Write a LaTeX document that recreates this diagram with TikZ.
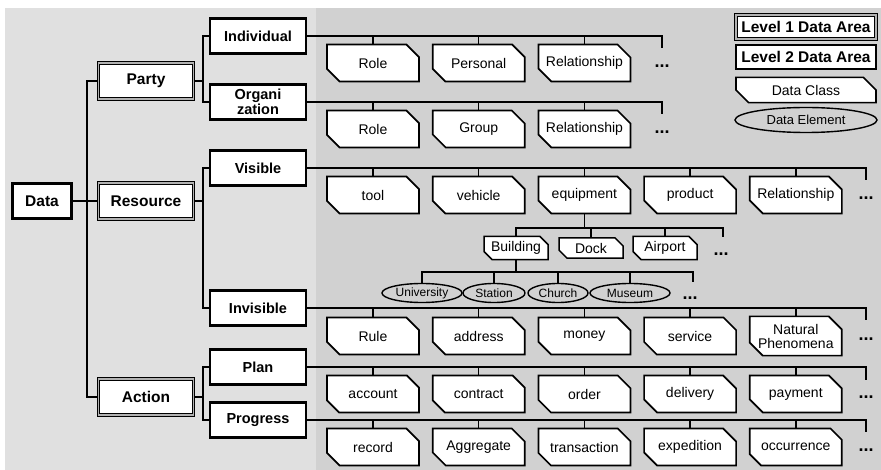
\documentclass[tikz,border=0pt]{standalone}
\usepackage{fontspec}
\setmainfont{Liberation Sans}
\usetikzlibrary{positioning,shapes.misc,shapes.geometric}

\begin{document}
\begin{tikzpicture}[x=1pt, y=-1pt,
    link/.style={line width=1.4pt},
    rootbox/.style={draw, line width=2.4pt, fill=white, minimum width=59pt, minimum height=35pt,
                    inner sep=1pt, font=\fontsize{15.5}{17}\selectfont\bfseries},
    areaone/.style={draw, line width=0.9pt, double=gray!60, double distance=1.4pt, fill=white,
                    minimum width=95pt, minimum height=36pt, inner sep=1pt,
                    font=\fontsize{15.5}{17}\selectfont\bfseries},
    areatwo/.style={draw, line width=2.4pt, fill=white, minimum width=96pt, minimum height=35pt,
                    inner sep=1pt, align=center, font=\fontsize{14.5}{12}\selectfont\bfseries},
    dclass/.style={chamfered rectangle, chamfered rectangle corners={north east,south west},
                   chamfered rectangle xsep=6.5pt, chamfered rectangle ysep=6.5pt, draw, line width=1.7pt,
                   fill=white, minimum width=92pt, minimum height=37pt, inner sep=1pt, align=center,
                   font=\fontsize{14}{14}\selectfont},
    subclass/.style={dclass, chamfered rectangle xsep=4pt, chamfered rectangle ysep=4pt,
                     line width=1.5pt, minimum width=64pt, minimum height=20pt},
    delem/.style={ellipse, draw, line width=1.4pt, minimum height=19pt, inner sep=0pt,
                  font=\fontsize{12}{12}\selectfont},
    more/.style={inner sep=0pt, font=\fontsize{18}{18}\selectfont\bfseries},
  ]

  % background
  \useasboundingbox (0,0) rectangle (881,470);
  \fill[gray!24] (5,8) rectangle (881,470);
  \fill[gray!36] (316,8) rectangle (881,470);

  % bus lines
  \coordinate (lva) at (87,0);
  \coordinate (lvb) at (203,0);

  % level 1
  \node[rootbox] (data) at (42,201) {Data};
  \node[areaone] (party) at (146,81) {Party};
  \node[areaone] (resource) at (146,201) {Resource};
  \node[areaone] (action) at (146,397) {Action};

  % level 2
  \node[areatwo] (ind) at (258,36) {Individual};
  \node[areatwo] (org) at (258,102) {Organi\\zation};
  \node[areatwo] (vis) at (258,168) {Visible};
  \node[areatwo] (invis) at (258,308) {Invisible};
  \node[areatwo] (plan) at (258,367) {Plan};
  \node[areatwo] (prog) at (258,420) {Progress};

  \draw[link] (data) -- (resource);
  \draw[link] (party.west) -- (party.west -| lva) -- (action.west -| lva) -- (action.west);
  \draw[link] (ind.west) -- (ind.west -| lvb) -- (org.west -| lvb) -- (org.west);
  \draw[link] (party.east) -- (party.east -| lvb);
  \draw[link] (vis.west) -- (vis.west -| lvb) -- (invis.west -| lvb) -- (invis.west);
  \draw[link] (resource.east) -- (resource.east -| lvb);
  \draw[link] (plan.west) -- (plan.west -| lvb) -- (prog.west -| lvb) -- (prog.west);
  \draw[link] (action.east) -- (action.east -| lvb);

  % data classes
  \node[dclass] (a1) at (373,63) {Role};
  \node[dclass, right=12pt of a1] (a2) {Personal};
  \node[dclass, right=12pt of a2] (a3) {Relationship};
  \node[more] (moreA) at (662,66) {...};

  \node[dclass] (b1) at (373,129) {Role};
  \node[dclass, right=12pt of b1] (b2) {Group};
  \node[dclass, right=12pt of b2] (b3) {Relationship};
  \node[more] (moreB) at (662,132) {...};

  \node[dclass] (c1) at (373,195) {tool};
  \node[dclass, right=12pt of c1] (c2) {vehicle};
  \node[dclass, right=12pt of c2] (c3) {equipment};
  \node[dclass, right=12pt of c3] (c4) {product};
  \node[dclass, right=12pt of c4] (c5) {Relationship};
  \node[more] (moreC) at (866,198) {...};

  \node[dclass] (d1) at (373,336) {Rule};
  \node[dclass, right=12pt of d1] (d2) {address};
  \node[dclass, right=12pt of d2] (d3) {money};
  \node[dclass, right=12pt of d3] (d4) {service};
  \node[dclass, right=12pt of d4] (d5) {Natural\\Phenomena};
  \node[more] (moreD) at (866,339) {...};

  \node[dclass] (e1) at (373,394) {account};
  \node[dclass, right=12pt of e1] (e2) {contract};
  \node[dclass, right=12pt of e2] (e3) {order};
  \node[dclass, right=12pt of e3] (e4) {delivery};
  \node[dclass, right=12pt of e4] (e5) {payment};
  \node[more] (moreE) at (866,397) {...};

  \node[dclass] (f1) at (373,447) {record};
  \node[dclass, right=12pt of f1] (f2) {Aggregate};
  \node[dclass, right=12pt of f2] (f3) {transaction};
  \node[dclass, right=12pt of f3] (f4) {expedition};
  \node[dclass, right=12pt of f4] (f5) {occurrence};
  \node[more] (moreF) at (866,450) {...};

  % sub classes of equipment
  \node[subclass] (g1) at (516,248) {Building};
  \node[subclass] (g2) at (591,248) {Dock};
  \node[subclass] (g3) at (665,248) {Airport};
  \node[more] (moreG) at (721,254) {...};

  % data elements of building
  \node[delem, minimum width=80pt] (h1) at (422,293) {University};
  \node[delem, minimum width=62pt] (h2) at (494,293) {Station};
  \node[delem, minimum width=60pt] (h3) at (558,293) {Church};
  \node[delem, minimum width=80pt] (h4) at (630,293) {Museum};
  \node[more] (moreH) at (690,298) {...};

  % row buses
  \coordinate (endA) at (662,48);
  \coordinate (endB) at (662,114);
  \coordinate (endC) at (866,180);
  \coordinate (endD) at (866,320);
  \coordinate (endE) at (866,380);
  \coordinate (endF) at (866,432);
  \coordinate (endG) at (723,237);
  \coordinate (endH) at (693,282);
  \coordinate (busG) at (0,228);
  \coordinate (busH) at (0,272);

  \draw[link] (ind.east) -| (endA);
  \draw[link] (org.east) -| (endB);
  \draw[link] (vis.east) -| (endC);
  \draw[link] (invis.east) -| (endD);
  \draw[link] (plan.east) -| (endE);
  \draw[link] (prog.east) -| (endF);
  \foreach \c in {a1,a2,a3} \draw[link] (\c.north) -- (\c.north |- ind.east);
  \foreach \c in {b1,b2,b3} \draw[link] (\c.north) -- (\c.north |- org.east);
  \foreach \c in {c1,c2,c3,c4,c5} \draw[link] (\c.north) -- (\c.north |- vis.east);
  \foreach \c in {d1,d2,d3,d4,d5} \draw[link] (\c.north) -- (\c.north |- invis.east);
  \foreach \c in {e1,e2,e3,e4,e5} \draw[link] (\c.north) -- (\c.north |- plan.east);
  \foreach \c in {f1,f2,f3,f4,f5} \draw[link] (\c.north) -- (\c.north |- prog.east);

  \draw[link] (c3.south) -- (c3.south |- busG);
  \draw[link] (g1.north) |- (busG -| endG) -- (endG);
  \foreach \c in {g2,g3} \draw[link] (\c.north) -- (\c.north |- busG);
  \draw[link] (g1.south) -- (g1.south |- busH);
  \draw[link] (h1.north) |- (busH -| endH) -- (endH);
  \foreach \c in {h2,h3,h4} \draw[link] (\c.north) -- (\c.north |- busH);

  % key
  \node[areaone, minimum width=140pt, minimum height=24pt] (keyone) at (806,27) {Level 1 Data Area};
  \node[areatwo, minimum width=140pt, minimum height=24pt, font=\fontsize{15.5}{17}\selectfont\bfseries]
    (keytwo) at (806,57) {Level 2 Data Area};
  \node[dclass, minimum width=140pt, minimum height=24pt] (keyclass) at (806,90) {Data Class};
  \node[delem, minimum width=142pt, minimum height=25pt, font=\fontsize{13}{13}\selectfont]
    (keyelem) at (806,120) {Data Element};
\end{tikzpicture}
\end{document}
